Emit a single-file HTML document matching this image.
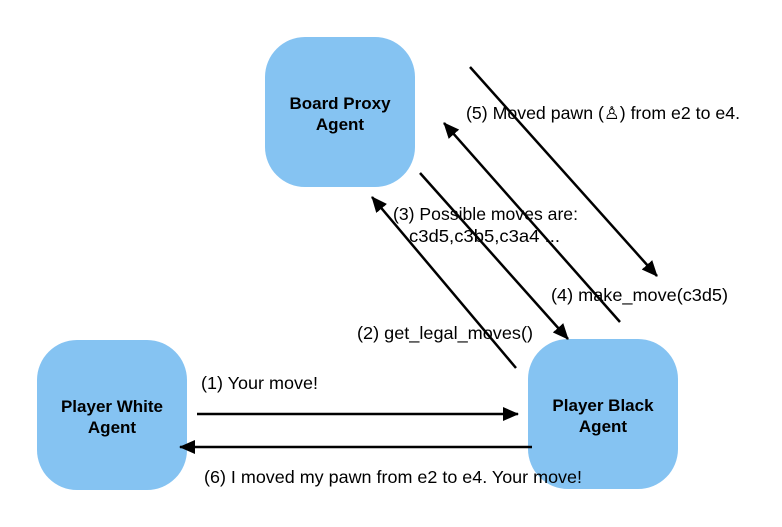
<!DOCTYPE html>
<html><head><meta charset="utf-8"><style>
body{margin:0;background:#fff;}
svg{display:block;font-family:"Liberation Sans","DejaVu Sans",sans-serif;}
</style></head><body>
<svg width="782" height="527" viewBox="0 0 782 527">
<defs>
<marker id="ah2" markerWidth="16" markerHeight="14" refX="15" refY="7" orient="auto" markerUnits="userSpaceOnUse" viewBox="0 0 16 14"><path d="M0,0 L16,7 L0,14 z" fill="#000"/></marker></defs>
<g><rect x="265" y="37" width="150" height="150" rx="40" fill="#85c3f2"/>
<text x="340" y="109" text-anchor="middle" font-size="17" font-weight="bold">Board Proxy</text><text x="340" y="130" text-anchor="middle" font-size="17" font-weight="bold">Agent</text></g>
<g><rect x="37" y="340" width="150" height="150" rx="40" fill="#85c3f2"/>
<text x="112" y="412" text-anchor="middle" font-size="17" font-weight="bold">Player White</text><text x="112" y="433" text-anchor="middle" font-size="17" font-weight="bold">Agent</text></g>
<g><rect x="528" y="339" width="150" height="150" rx="40" fill="#85c3f2"/>
<text x="603" y="411" text-anchor="middle" font-size="17" font-weight="bold">Player Black</text><text x="603" y="432" text-anchor="middle" font-size="17" font-weight="bold">Agent</text></g>
<g stroke="#000" stroke-width="2.5" fill="none">
<line x1="470" y1="67" x2="657" y2="276" marker-end="url(#ah2)"/>
<line x1="620" y1="322" x2="444" y2="123" marker-end="url(#ah2)"/>
<line x1="420" y1="173" x2="568" y2="339" marker-end="url(#ah2)"/>
<line x1="516" y1="368" x2="372" y2="197" marker-end="url(#ah2)"/>
<line x1="197" y1="414" x2="518" y2="414" marker-end="url(#ah2)"/>
<line x1="532" y1="447" x2="180" y2="447" marker-end="url(#ah2)"/>
</g>
<g font-size="17.5" fill="#000">
<text x="466" y="119" textLength="274" lengthAdjust="spacingAndGlyphs">(5) Moved pawn (♙) from e2 to e4.</text>
<text x="393" y="220" textLength="185" lengthAdjust="spacingAndGlyphs">(3) Possible moves are:</text>
<text x="409" y="242" textLength="151" lengthAdjust="spacingAndGlyphs">c3d5,c3b5,c3a4 ...</text>
<text x="551" y="301" textLength="177" lengthAdjust="spacingAndGlyphs">(4) make_move(c3d5)</text>
<text x="357" y="339" textLength="176" lengthAdjust="spacingAndGlyphs">(2) get_legal_moves()</text>
<text x="201" y="389" textLength="117" lengthAdjust="spacingAndGlyphs">(1) Your move!</text>
<text x="204" y="483" textLength="378" lengthAdjust="spacingAndGlyphs">(6) I moved my pawn from e2 to e4. Your move!</text>
</g>
</svg>
</body></html>
